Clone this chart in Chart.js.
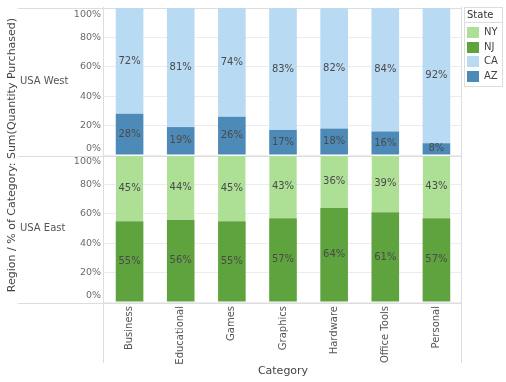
<!DOCTYPE html>
<html>
<head>
<meta charset="utf-8">
<script src="https://cdn.jsdelivr.net/npm/chart.js@4.4.1/dist/chart.umd.min.js"></script>
<style>
  html, body { margin: 0; padding: 0; background: #fff; }
</style>
</head>
<body>
<canvas id="chart" width="506" height="382"></canvas>
<script>
// data
const categories = ['Business', 'Educational', 'Games', 'Graphics', 'Hardware', 'Office Tools', 'Personal'];
const westAZ = [28, 19, 26, 17, 18, 16, 8];
const westCA = [72, 81, 74, 83, 82, 84, 92];
const eastNJ = [55, 56, 55, 57, 64, 61, 57];
const eastNY = [45, 44, 45, 43, 36, 39, 43];
const regions = ['USA West', 'USA East'];
const legendOrder = ['NY', 'NJ', 'CA', 'AZ'];

const colors = { NY: '#addf95', NJ: '#5fa33f', CA: '#b9daf3', AZ: '#4e8ab8' };
const FONT = 'DejaVu Sans';
Chart.defaults.font.family = FONT;

const pctTick = v => {
  // push the edge labels inside the panel like the original
  if (v === 100) return ['', '100%'];
  if (v === 0) return ['0%', ''];
  return v + '%';
};

const regionAxis = (weight) => ({
  type: 'linear',
  position: 'left',
  stack: 'region',
  stackWeight: 1,
  weight: weight,
  stacked: true,
  min: 0,
  max: 100,
  border: { display: false },
  grid: { color: '#ececec', drawTicks: false },
  ticks: { stepSize: 20, autoSkip: false, padding: 3, color: '#6b6b6b', font: { size: 9.5, lineHeight: 1.3 }, callback: pctTick },
  afterFit: s => { s.width = 104; s.paddingTop = 0; s.paddingBottom = 0; }
});

const decorations = {
  id: 'decorations',
  beforeDatasetsDraw(chart) {
    const { ctx, chartArea } = chart;
    const west = chart.scales.yWest;
    ctx.save();
    ctx.strokeStyle = '#dddddd';
    ctx.lineWidth = 1;
    ctx.beginPath();
    [chartArea.top - 0.5, west.bottom + 0.5, chartArea.bottom + 0.5].forEach(y => {
      ctx.moveTo(18, Math.round(y) + 0.5);
      ctx.lineTo(chartArea.right, Math.round(y) + 0.5);
    });
    [chartArea.left, chartArea.right].forEach(x => {
      ctx.moveTo(Math.round(x) - 0.5, chartArea.top - 1);
      ctx.lineTo(Math.round(x) - 0.5, 363);
    });
    ctx.stroke();
    ctx.restore();
  },
  afterDraw(chart) {
    const { ctx, chartArea } = chart;
    ctx.save();

    // row headers
    ctx.fillStyle = '#555';
    ctx.font = '10px ' + FONT;
    ctx.textAlign = 'left';
    ctx.textBaseline = 'middle';
    ['yWest', 'yEast'].forEach((id, i) => {
      const s = chart.scales[id];
      ctx.fillText(regions[i], 20, (s.top + s.bottom) / 2);
    });

    // shared y title
    ctx.save();
    ctx.translate(12, (chartArea.top + chartArea.bottom) / 2);
    ctx.rotate(-Math.PI / 2);
    ctx.textAlign = 'center';
    ctx.fillStyle = '#444';
    ctx.font = '11px ' + FONT;
    ctx.fillText('Region / % of Category: Sum(Quantity Purchased)', 0, 0);
    ctx.restore();

    // legend box
    const lx = 464, ly = 7, lw = 38, lh = 79;
    ctx.strokeStyle = '#dddddd';
    ctx.strokeRect(lx + 0.5, ly + 0.5, lw, lh);
    ctx.beginPath();
    ctx.moveTo(lx, ly + 15.5);
    ctx.lineTo(lx + lw, ly + 15.5);
    ctx.stroke();
    ctx.fillStyle = '#333';
    ctx.font = '10px ' + FONT;
    ctx.fillText('State', 467, ly + 8.5);
    legendOrder.forEach((name, i) => {
      const cy = 32 + i * 14.6;
      ctx.fillStyle = colors[name];
      ctx.fillRect(467, Math.round(cy - 5), 12, 11);
      ctx.fillStyle = '#444';
      ctx.fillText(name, 484, cy + 0.5);
    });
    ctx.restore();
  }
};

const barLabels = {
  id: 'barLabels',
  afterDatasetsDraw(chart) {
    const { ctx } = chart;
    ctx.save();
    ctx.font = '10px ' + FONT;
    ctx.fillStyle = '#4a4a4a';
    ctx.textAlign = 'center';
    ctx.textBaseline = 'middle';
    chart.data.datasets.forEach((ds, di) => {
      chart.getDatasetMeta(di).data.forEach((bar, i) => {
        ctx.fillText(ds.data[i] + '%', bar.x, (bar.y + bar.base) / 2);
      });
    });
    ctx.restore();
  }
};

const makeSet = (label, data, axis, topGap) => ({
  label: label,
  data: data,
  yAxisID: axis,
  backgroundColor: colors[label],
  borderColor: '#ffffff',
  borderWidth: topGap ? { top: 1, bottom: 0, left: 0, right: 0 } : 0,
  borderSkipped: 'bottom',
  categoryPercentage: 1,
  barPercentage: 0.54,
  grouped: false
});

new Chart(document.getElementById('chart'), {
  type: 'bar',
  data: {
    labels: categories,
    datasets: [
      makeSet('AZ', westAZ, 'yWest'),
      makeSet('CA', westCA, 'yWest'),
      makeSet('NJ', eastNJ, 'yEast'),
      makeSet('NY', eastNY, 'yEast', true)
    ]
  },
  options: {
    responsive: false,
    animation: false,
    layout: { padding: { top: 8, right: 44, left: 0, bottom: 0 } },
    plugins: { legend: { display: false }, tooltip: { enabled: false } },
    scales: {
      x: {
        stacked: true,
        grid: { display: false },
        border: { display: false },
        ticks: { minRotation: 90, maxRotation: 90, autoSkip: false, padding: -4, color: '#555', font: { size: 10 } },
        title: { display: true, text: 'Category', color: '#444', font: { size: 11 }, padding: { top: 0, bottom: 4 } },
        afterFit: s => { s.height = 80; s.paddingLeft = 0; s.paddingRight = 0; }
      },
      yEast: regionAxis(0),
      yWest: regionAxis(1)
    }
  },
  plugins: [decorations, barLabels]
});
</script>
</body>
</html>
